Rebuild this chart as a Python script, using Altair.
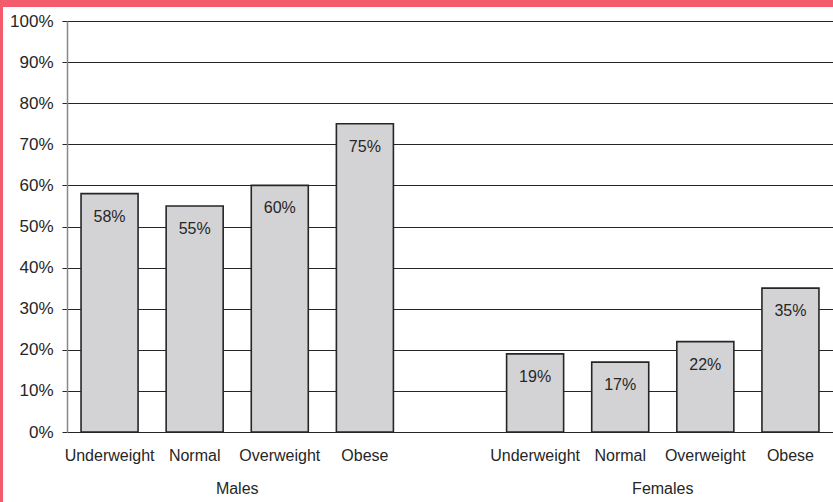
import altair as alt
import pandas as pd

# Share of each BMI category, by sex (percent)
groups = ["Males"] * 4 + ["Females"] * 4
categories = ["Underweight", "Normal", "Overweight", "Obese"] * 2
values = [58, 55, 60, 75, 19, 17, 22, 35]
group_names = ["Males", "Females"]
y_ticks = [0, 10, 20, 30, 40, 50, 60, 70, 80, 90, 100]

keys = [f"{g}|{c}" for g, c in zip(groups, categories)]
# an empty slot separates the two groups
x_domain = keys[:4] + ["gap"] + keys[4:]

df = pd.DataFrame({"key": keys, "group": groups, "category": categories, "value": values})
# group captions sit between the 2nd and 3rd bar of each group
group_df = pd.DataFrame({"group": group_names, "key": [keys[1], keys[5]]})

W, H = 766, 411
STEP = W / 9.0
FONT = "Liberation Sans"
INK = "#262626"
ACCENT = "#f25c6c"

x_enc = alt.X(
    "key:N",
    scale=alt.Scale(domain=x_domain, paddingInner=0.33, paddingOuter=0.165),
    axis=alt.Axis(
        title=None,
        labelExpr="indexof(datum.value, '|') < 0 ? '' : split(datum.value, '|')[1]",
        labelAngle=0,
        ticks=False,
        domain=False,
        labelPadding=15,
        labelFontSize=16,
        labelColor=INK,
        labelFont=FONT,
    ),
)

y_enc = alt.Y(
    "value:Q",
    scale=alt.Scale(domain=[0, 100], nice=False),
    axis=alt.Axis(
        title=None,
        values=y_ticks,
        labelExpr="datum.value + '%'",
        grid=True,
        gridColor=INK,
        gridOpacity=1,
        gridWidth=1,
        tickColor=INK,
        tickSize=5,
        domainColor="#888888",
        domainWidth=1.5,
        labelPadding=9,
        labelFontSize=17,
        labelColor=INK,
        labelFont=FONT,
    ),
)

bars = alt.Chart(df).mark_bar(
    fill="#d3d3d5", stroke=INK, strokeWidth=1.6
).encode(x=x_enc, y=y_enc)

bar_labels = alt.Chart(df).transform_calculate(
    label="datum.value + '%'"
).mark_text(
    baseline="middle", dy=23, fontSize=16, font=FONT, color=INK
).encode(
    x=alt.X("key:N", scale=alt.Scale(domain=x_domain)),
    y="value:Q",
    text="label:N",
)

group_labels = alt.Chart(group_df).mark_text(
    baseline="middle", dx=STEP / 2, fontSize=16, font=FONT, color=INK
).encode(
    x=alt.X("key:N", scale=alt.Scale(domain=x_domain)),
    y=alt.value(H + 57),
    text="group:N",
)

# decorative frame: band across the top and thin line down the left edge
top_band = alt.Chart(pd.DataFrame({"k": [0]})).mark_rect(color=ACCENT).encode(
    x=alt.value(-67), x2=alt.value(W), y=alt.value(-21), y2=alt.value(-14)
)
left_band = alt.Chart(pd.DataFrame({"k": [0]})).mark_rect(color=ACCENT).encode(
    x=alt.value(-67), x2=alt.value(-64), y=alt.value(-21), y2=alt.value(H + 70)
)

chart = alt.layer(bars, bar_labels, group_labels, top_band, left_band).properties(
    width=W,
    height=H,
    autosize="none",
    padding={"left": 67, "top": 21, "right": 0, "bottom": 70},
    background="white",
).configure_view(stroke=None)

chart.save("out.html", embed_options={"renderer": "svg", "actions": False})
